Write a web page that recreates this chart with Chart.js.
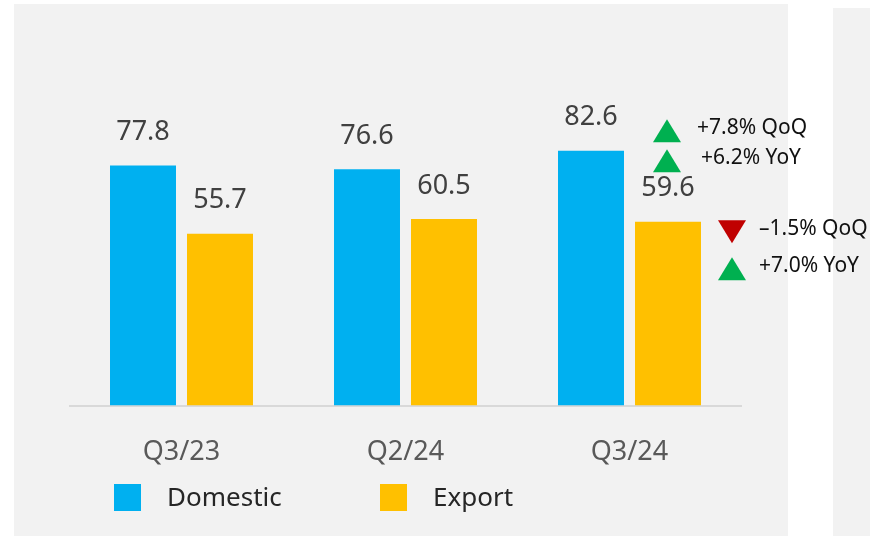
<!DOCTYPE html>
<html>
<head>
<meta charset="utf-8">
<script src="https://cdn.jsdelivr.net/npm/chart.js@4.4.1/dist/chart.umd.min.js"></script>
<style>
  html, body { margin: 0; padding: 0; background: #ffffff; }
  #wrap { position: relative; width: 870px; height: 536px; }
  canvas { display: block; }
</style>
</head>
<body>
<div id="wrap"><canvas id="c" width="870" height="536"></canvas></div>
<script>
// ---- data ----
const categories = ['Q3/23', 'Q2/24', 'Q3/24'];
const domesticValues = [77.8, 76.6, 82.6];
const exportValues = [55.7, 60.5, 59.6];
const seriesNames = ['Domestic', 'Export'];
const domesticChanges = ['+7.8% QoQ', '+6.2% YoY'];
const domesticChangeUp = [true, true];
const exportChanges = ['\u20131.5% QoQ', '+7.0% YoY'];
const exportChangeUp = [false, true];

const FONT = '"Noto Sans", "Open Sans", sans-serif';
const GREEN = '#00b050';
const RED = '#c00000';

const panelsPlugin = {
  id: 'panels',
  beforeDraw(chart) {
    const ctx = chart.ctx;
    ctx.save();
    ctx.fillStyle = '#f2f2f2';
    ctx.fillRect(14, 4, 774, 532);
    ctx.fillRect(833, 8, 37, 528);
    ctx.restore();
  }
};

const valueLabelPlugin = {
  id: 'valueLabels',
  afterDatasetsDraw(chart) {
    const ctx = chart.ctx;
    ctx.save();
    ctx.font = '27px ' + FONT;
    ctx.fillStyle = '#404040';
    ctx.textAlign = 'center';
    ctx.textBaseline = 'middle';
    chart.data.datasets.forEach((ds, di) => {
      chart.getDatasetMeta(di).data.forEach((bar, i) => {
        ctx.fillText(ds.data[i].toFixed(1), bar.x, bar.y - 33);
      });
    });
    ctx.restore();
  }
};

function tri(ctx, cx, cy, up, color) {
  const w = 28, h = 23;
  ctx.fillStyle = color;
  ctx.beginPath();
  if (up) {
    ctx.moveTo(cx - w / 2, cy + h / 2);
    ctx.lineTo(cx + w / 2, cy + h / 2);
    ctx.lineTo(cx, cy - h / 2);
  } else {
    ctx.moveTo(cx - w / 2, cy - h / 2);
    ctx.lineTo(cx + w / 2, cy - h / 2);
    ctx.lineTo(cx, cy + h / 2);
  }
  ctx.closePath();
  ctx.fill();
}

const changePlugin = {
  id: 'changes',
  afterDatasetsDraw(chart) {
    const ctx = chart.ctx;
    const last = categories.length - 1;
    const dBar = chart.getDatasetMeta(0).data[last];
    const eBar = chart.getDatasetMeta(1).data[last];
    ctx.save();
    ctx.font = '21px ' + FONT;
    ctx.textBaseline = 'middle';
    ctx.textAlign = 'left';
    const dRight = dBar.x + dBar.width / 2;
    const eRight = eBar.x + eBar.width / 2;
    const dOffsets = [-20, 10];
    const dTextX = [dRight + 73, dRight + 77];
    domesticChanges.forEach((t, i) => {
      tri(ctx, dRight + 43, dBar.y + dOffsets[i], domesticChangeUp[i], domesticChangeUp[i] ? GREEN : RED);
      ctx.fillStyle = '#111111';
      ctx.fillText(t, dTextX[i], dBar.y + dOffsets[i] - 3);
    });
    const eOffsets = [10, 47];
    exportChanges.forEach((t, i) => {
      tri(ctx, eRight + 31, eBar.y + eOffsets[i], exportChangeUp[i], exportChangeUp[i] ? GREEN : RED);
      ctx.fillStyle = '#111111';
      ctx.fillText(t, eRight + 58, eBar.y + eOffsets[i] - 3);
    });
    ctx.restore();
  }
};

const legendPlugin = {
  id: 'customLegend',
  afterDraw(chart) {
    const ctx = chart.ctx;
    const xs = [114, 380];
    ctx.save();
    ctx.font = '26px ' + FONT;
    ctx.textBaseline = 'middle';
    ctx.textAlign = 'left';
    chart.data.datasets.forEach((ds, i) => {
      ctx.fillStyle = ds.backgroundColor;
      ctx.fillRect(xs[i], 484, 27, 27);
      ctx.fillStyle = '#262626';
      ctx.fillText(ds.label, xs[i] + 53, 499);
    });
    ctx.restore();
  }
};

new Chart(document.getElementById('c'), {
  type: 'bar',
  data: {
    labels: categories,
    datasets: [
      { label: seriesNames[0], data: domesticValues, backgroundColor: '#00b0f0',
        categoryPercentage: 0.6875, barPercentage: 0.857 },
      { label: seriesNames[1], data: exportValues, backgroundColor: '#ffc000',
        categoryPercentage: 0.6875, barPercentage: 0.857 }
    ]
  },
  options: {
    responsive: false,
    animation: false,
    devicePixelRatio: 1,
    layout: { padding: { left: 69.5, right: 128.5, top: 97, bottom: 36 } },
    plugins: { legend: { display: false }, tooltip: { enabled: false } },
    scales: {
      x: {
        grid: { display: false, drawTicks: false },
        border: { display: true, color: '#d9d9d9', width: 2 },
        ticks: { color: '#595959', font: { family: FONT, size: 27 }, padding: 31 }
      },
      y: {
        display: false,
        min: 0,
        max: 100
      }
    }
  },
  plugins: [panelsPlugin, valueLabelPlugin, changePlugin, legendPlugin]
});
</script>
</body>
</html>
